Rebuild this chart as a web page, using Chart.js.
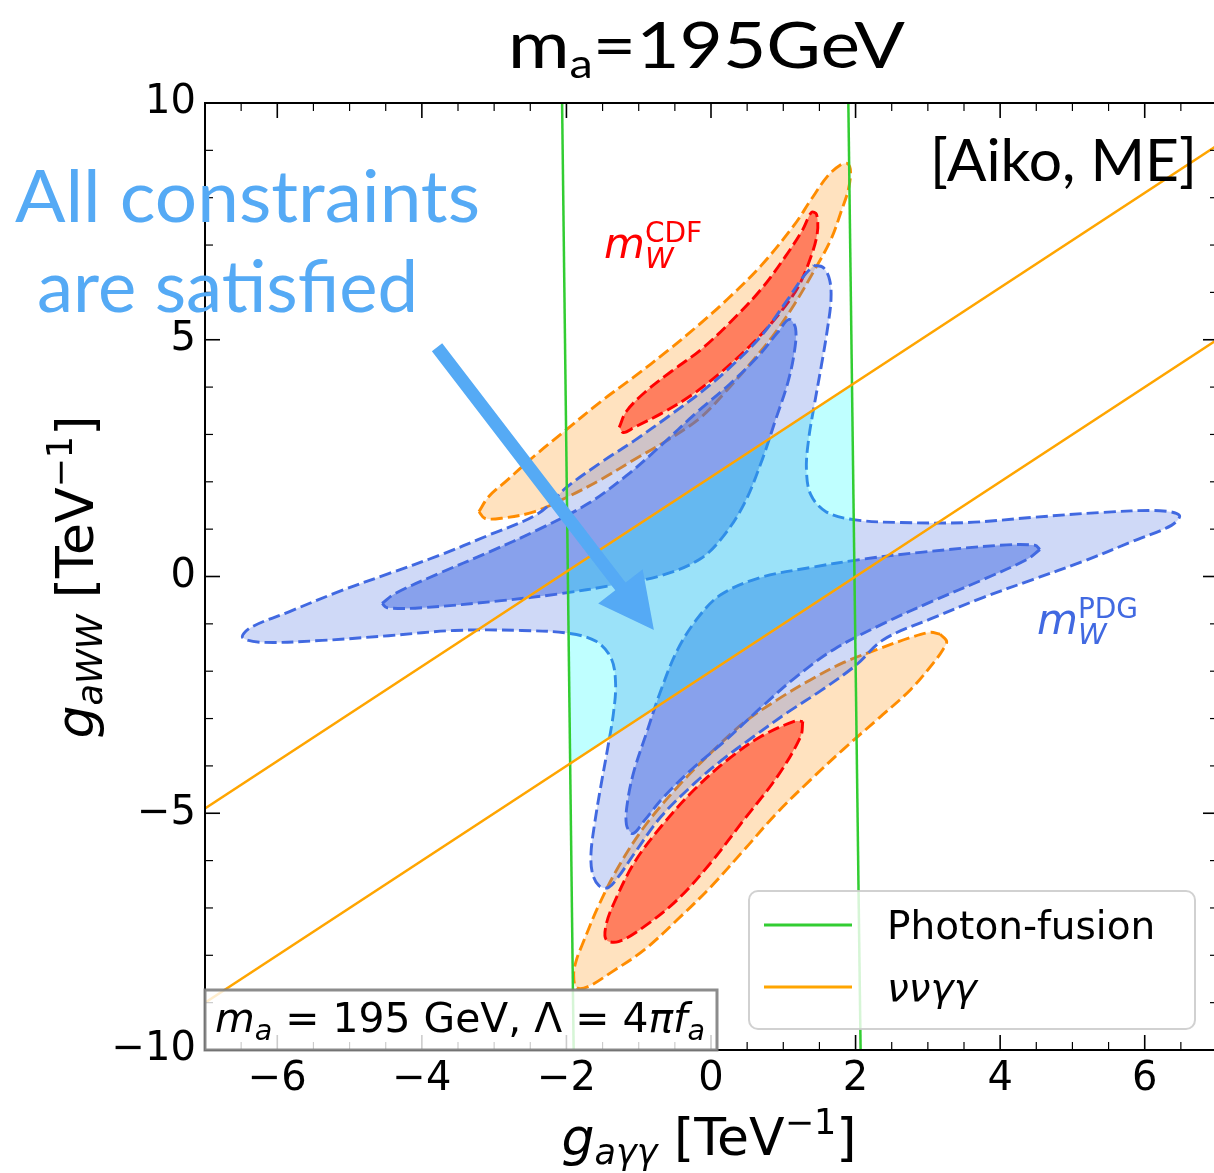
<!DOCTYPE html>
<html lang="en">
<head>
<meta charset="UTF-8">
<title>m_a = 195 GeV</title>
<style>
  html, body { margin: 0; padding: 0; background: #fff; overflow: hidden; }
  #wrap { width: 1214px; height: 1173px; overflow: hidden; }
  canvas { display: block; }
</style>
</head>
<body>
<div id="wrap"><canvas id="chart" width="1218" height="1173"></canvas></div>
<script src="https://cdn.jsdelivr.net/npm/chart.js@4.4.1/dist/chart.umd.min.js"></script>
<script>
// axis ticks
const xTicks = [-6, -4, -2, 0, 2, 4, 6];
const yTicks = [-10, -5, 0, 5, 10];
const xMinorStep = 0.5;
const yMinorStep = 1;

// straight bounds: Photon-fusion (green) and nu nu gamma gamma (orange)
const photonLeft = [[-2.06, 10], [-1.90, -10]];
const photonRight = [[1.90, 10], [2.07, -10]];
const nnggUpper = [[-7, -4.9], [7, 9.1]];
const nnggLower = [[-7, -9.0], [7, 5.0]];

// region allowed by both bounds (corners where green and orange lines meet)
const allowed = [[-1.98, 0.12], [1.95, 4.05], [1.985, -0.015], [-1.95, -3.95], [-1.98, 0.12]];

// m_W (PDG) contours
const pdgOuter = [
  [1.42, 6.57], [1.55, 6.53], [1.64, 6.27], [1.66, 5.85], [1.61, 5.22], [1.53, 4.48], [1.43, 3.63],
  [1.35, 2.89], [1.32, 2.26], [1.38, 1.73], [1.59, 1.37], [1.97, 1.20], [2.62, 1.14], [3.55, 1.14],
  [4.46, 1.25], [5.38, 1.35], [6.21, 1.39], [6.48, 1.29], [6.37, 1.08], [5.83, 0.74], [5.15, 0.32],
  [4.46, -0.06], [3.77, -0.44], [3.08, -0.87], [2.39, -1.33], [2.00, -1.88], [1.52, -2.41],
  [1.06, -2.87], [0.59, -3.38], [0.14, -3.89], [-0.23, -4.37], [-0.69, -5.07], [-1.06, -5.85],
  [-1.28, -6.34], [-1.42, -6.57], [-1.55, -6.53], [-1.64, -6.27], [-1.66, -5.85], [-1.61, -5.22],
  [-1.53, -4.48], [-1.43, -3.63], [-1.35, -2.89], [-1.32, -2.26], [-1.38, -1.73], [-1.59, -1.37],
  [-1.97, -1.20], [-2.62, -1.14], [-3.55, -1.14], [-4.46, -1.25], [-5.38, -1.35], [-6.21, -1.39],
  [-6.48, -1.29], [-6.37, -1.08], [-5.83, -0.74], [-5.15, -0.32], [-4.46, 0.06], [-3.77, 0.44],
  [-3.08, 0.87], [-2.39, 1.33], [-2.00, 1.88], [-1.52, 2.41], [-1.06, 2.87], [-0.59, 3.38],
  [-0.14, 3.89], [0.23, 4.37], [0.69, 5.07], [1.06, 5.85], [1.28, 6.34], [1.42, 6.57]
];
const pdgInnerUpper = [
  [-4.55, -0.57], [-4.37, -0.36], [-3.77, 0.06], [-3.08, 0.51], [-2.39, 0.99], [-1.70, 1.54],
  [-1.17, 2.13], [-0.69, 2.77], [-0.21, 3.45], [0.25, 4.05], [0.65, 4.65], [0.92, 5.15], [1.08, 5.43],
  [1.17, 5.24], [1.15, 4.71], [1.06, 4.08], [0.90, 3.34], [0.69, 2.39], [0.46, 1.54], [0.18, 0.87],
  [-0.14, 0.38], [-0.69, 0.02], [-1.38, -0.19], [-2.07, -0.36], [-2.90, -0.51], [-4.00, -0.66],
  [-4.48, -0.66], [-4.55, -0.57]
];
const pdgInnerLower = [
  [4.55, 0.57], [4.37, 0.36], [3.77, -0.06], [3.08, -0.51], [2.39, -0.99], [1.70, -1.54],
  [1.17, -2.13], [0.69, -2.77], [0.21, -3.45], [-0.25, -4.05], [-0.65, -4.65], [-0.92, -5.15],
  [-1.08, -5.43], [-1.17, -5.24], [-1.15, -4.71], [-1.06, -4.08], [-0.90, -3.34], [-0.69, -2.39],
  [-0.46, -1.54], [-0.18, -0.87], [0.14, -0.38], [0.69, -0.02], [1.38, 0.19], [2.07, 0.36],
  [2.90, 0.51], [4.00, 0.66], [4.48, 0.66], [4.55, 0.57]
];

// m_W (CDF) contours
const cdfOuterUpper = [
  [-3.21, 1.37], [-3.08, 1.68], [-2.83, 2.02], [-2.44, 2.55], [-2.00, 3.10], [-1.52, 3.70],
  [-1.06, 4.22], [-0.59, 4.78], [-0.18, 5.30], [0.23, 5.86], [0.69, 6.56], [1.15, 7.42], [1.38, 7.95],
  [1.61, 8.45], [1.79, 8.69], [1.89, 8.72], [1.93, 8.55], [1.90, 8.17], [1.81, 7.75], [1.66, 7.12],
  [1.42, 6.44], [1.15, 5.74], [0.87, 5.11], [0.59, 4.58], [0.23, 3.95], [-0.14, 3.36], [-0.59, 2.89],
  [-1.06, 2.47], [-1.52, 2.05], [-1.97, 1.69], [-2.44, 1.37], [-2.90, 1.23], [-3.13, 1.23], [-3.21, 1.37]
];
const cdfInnerUpper = [
  [-1.27, 3.15], [-1.17, 3.49], [-0.90, 3.91], [-0.55, 4.33], [-0.14, 4.79], [0.28, 5.39],
  [0.69, 6.06], [1.03, 6.76], [1.27, 7.33], [1.39, 7.69], [1.46, 7.65], [1.47, 7.25], [1.37, 6.70],
  [1.20, 6.10], [0.93, 5.52], [0.58, 4.93], [0.16, 4.34], [-0.26, 3.84], [-0.69, 3.44], [-1.05, 3.16],
  [-1.21, 3.04], [-1.27, 3.15]
];
const cdfOuterLower = [
  [3.17, -1.22], [3.26, -1.37], [3.21, -1.54], [3.08, -1.82], [2.76, -2.39], [2.30, -3.02],
  [1.83, -3.65], [1.38, -4.29], [0.92, -4.98], [0.46, -5.77], [0.00, -6.55], [-0.46, -7.24],
  [-0.92, -7.88], [-1.38, -8.36], [-1.70, -8.66], [-1.86, -8.68], [-1.90, -8.41], [-1.86, -8.09],
  [-1.79, -7.81], [-1.56, -6.97], [-1.28, -6.13], [-0.92, -5.28], [-0.46, -4.44], [0.00, -3.72],
  [0.46, -3.08], [0.92, -2.60], [1.38, -2.18], [1.83, -1.82], [2.30, -1.54], [2.76, -1.29],
  [3.03, -1.18], [3.17, -1.22]
];
const cdfInnerLower = [
  [1.27, -3.06], [1.24, -3.38], [0.92, -4.22], [0.46, -5.13], [0.00, -6.04], [-0.46, -6.82],
  [-0.92, -7.39], [-1.28, -7.71], [-1.45, -7.67], [-1.45, -7.35], [-1.34, -6.89], [-1.06, -6.04],
  [-0.69, -5.28], [-0.23, -4.50], [0.23, -3.87], [0.69, -3.38], [1.15, -3.06], [1.27, -3.06]
];

// annotations (data coordinates)
const arrowFrom = [-3.79, 4.84];
const arrowTo = [-0.79, -1.13];
const cdfLabelAt = [-1.48, 6.72];
const pdgLabelAt = [4.51, -1.22];

const FONT = '"DejaVu Sans", sans-serif';
const GILL = 'Lato, "Open Sans", sans-serif';
const green = 'rgb(50,205,50)';
const orange = 'rgb(255,165,0)';
const skyBlue = '#55aaf5';
const dash = [12, 5];

function contour(label, data, fillColor, edgeColor, order) {
  return {
    label, data, order, showLine: true, pointRadius: 0, tension: 0.35,
    fill: 'shape', backgroundColor: fillColor, borderColor: edgeColor,
    borderWidth: 2.9, borderDash: dash
  };
}
function bound(label, data, color, order) {
  return { label, data, order, showLine: true, pointRadius: 0, tension: 0,
    fill: false, borderColor: color, borderWidth: 2.5 };
}

function layoutRuns(ctx, runs) {
  let cx = 0, prev = 0, maxX = 0;
  const pos = [];
  for (const r of runs) {
    ctx.font = r.f;
    if (r.back) cx = prev;
    prev = cx;
    pos.push(cx);
    cx += ctx.measureText(r.t).width;
    maxX = Math.max(maxX, cx);
  }
  return { pos, width: maxX };
}

function drawRuns(ctx, runs, x, y, opts) {
  opts = opts || {};
  const lay = layoutRuns(ctx, runs);
  const sx = opts.width ? opts.width / lay.width : 1;
  ctx.save();
  ctx.translate(x, y);
  if (opts.rotate) ctx.rotate(opts.rotate);
  ctx.scale(sx, 1);
  ctx.fillStyle = opts.color || '#000';
  ctx.textAlign = 'left';
  ctx.textBaseline = 'alphabetic';
  const x0 = opts.align === 'center' ? -lay.width / 2 : 0;
  runs.forEach((r, i) => {
    ctx.font = r.f;
    ctx.fillText(r.t, x0 + lay.pos[i], r.dy || 0);
  });
  ctx.restore();
}

const decor = {
  id: 'decor',
  afterDatasetsDraw(chart) {
    const { ctx, chartArea: a, scales: { x, y } } = chart;
    ctx.save();

    // inward ticks on all four sides
    ctx.strokeStyle = '#000';
    const right = a.right + 1;
    const line = (x1, y1, x2, y2) => { ctx.beginPath(); ctx.moveTo(x1, y1); ctx.lineTo(x2, y2); ctx.stroke(); };
    for (let v = -7 + xMinorStep; v < 7; v += xMinorStep) {
      const px = x.getPixelForValue(v);
      const major = xTicks.includes(v);
      const len = major ? 15 : 8;
      ctx.lineWidth = major ? 1.6 : 1.2;
      line(px, a.bottom, px, a.bottom - len);
      line(px, a.top, px, a.top + len);
    }
    for (let v = -10 + yMinorStep; v < 10; v += yMinorStep) {
      const py = y.getPixelForValue(v);
      const major = yTicks.includes(v);
      const len = major ? 15 : 8;
      ctx.lineWidth = major ? 1.6 : 1.2;
      line(a.left, py, a.left + len, py);
      line(right, py, right - len, py);
    }
    ctx.lineWidth = 2;
    ctx.strokeRect(a.left, a.top, right - a.left, a.bottom - a.top);

    // arrow
    const p0 = [x.getPixelForValue(arrowFrom[0]), y.getPixelForValue(arrowFrom[1])];
    const p1 = [x.getPixelForValue(arrowTo[0]), y.getPixelForValue(arrowTo[1])];
    const dx = p1[0] - p0[0], dy = p1[1] - p0[1];
    const L = Math.hypot(dx, dy), ux = dx / L, uy = dy / L, nx = -uy, ny = ux;
    const headLen = 55, headHalf = 28, shaftHalf = 6.5;
    const bx = p1[0] - ux * headLen, by = p1[1] - uy * headLen;
    ctx.fillStyle = skyBlue;
    ctx.beginPath();
    ctx.moveTo(p0[0] + nx * shaftHalf, p0[1] + ny * shaftHalf);
    ctx.lineTo(bx + nx * shaftHalf, by + ny * shaftHalf);
    ctx.lineTo(bx + nx * headHalf, by + ny * headHalf);
    ctx.lineTo(p1[0], p1[1]);
    ctx.lineTo(bx - nx * headHalf, by - ny * headHalf);
    ctx.lineTo(bx - nx * shaftHalf, by - ny * shaftHalf);
    ctx.lineTo(p0[0] - nx * shaftHalf, p0[1] - ny * shaftHalf);
    ctx.closePath();
    ctx.fill();

    // contour labels
    drawRuns(ctx, [
      { t: 'm', f: 'italic 42px ' + FONT },
      { t: 'W', f: 'italic 29px ' + FONT, dy: 10 },
      { t: 'CDF', f: '28px ' + FONT, dy: -16, back: true }
    ], x.getPixelForValue(cdfLabelAt[0]), y.getPixelForValue(cdfLabelAt[1]), { color: '#ff0000' });
    drawRuns(ctx, [
      { t: 'm', f: 'italic 42px ' + FONT },
      { t: 'W', f: 'italic 29px ' + FONT, dy: 10 },
      { t: 'PDG', f: '28px ' + FONT, dy: -16, back: true }
    ], x.getPixelForValue(pdgLabelAt[0]), y.getPixelForValue(pdgLabelAt[1]), { color: 'royalblue' });

    // inset box
    const ib = { l: a.left, t: 990, r: 717, b: a.bottom };
    ctx.fillStyle = 'rgba(255,255,255,0.8)';
    ctx.fillRect(ib.l, ib.t, ib.r - ib.l, ib.b - ib.t);
    ctx.strokeStyle = 'rgba(128,128,128,0.9)';
    ctx.lineWidth = 3;
    ctx.strokeRect(ib.l, ib.t, ib.r - ib.l, ib.b - ib.t);
    drawRuns(ctx, [
      { t: 'm', f: 'italic 40px ' + FONT },
      { t: 'a', f: 'italic 28px ' + FONT, dy: 8 },
      { t: ' = 195 GeV, \u039B = 4', f: '40px ' + FONT },
      { t: '\u03C0f', f: 'italic 40px ' + FONT },
      { t: 'a', f: 'italic 28px ' + FONT, dy: 8 }
    ], 215, 1032, { width: 490 });

    // legend
    const lg = { l: 749, t: 891, r: 1195, b: 1029 };
    ctx.fillStyle = 'rgba(255,255,255,0.8)';
    ctx.strokeStyle = 'rgba(204,204,204,0.9)';
    ctx.lineWidth = 2;
    ctx.beginPath();
    ctx.roundRect(lg.l, lg.t, lg.r - lg.l, lg.b - lg.t, 9);
    ctx.fill();
    ctx.stroke();
    const items = [
      { ds: chart.data.datasets.find(d => d.label === 'Photon-fusion'), y: 925, italic: false },
      { ds: chart.data.datasets.find(d => d.label === '\u03BD\u03BD\u03B3\u03B3'), y: 987, italic: true }
    ];
    items.forEach(it => {
      ctx.strokeStyle = it.ds.borderColor;
      ctx.lineWidth = 3;
      line(764, it.y, 852, it.y);
      ctx.fillStyle = '#000';
      ctx.font = (it.italic ? 'italic ' : '') + '39px ' + FONT;
      ctx.textBaseline = 'alphabetic';
      ctx.fillText(it.ds.label, 887, it.y + 14);
    });
    ctx.restore();
  },
  afterDraw(chart) {
    const { ctx } = chart;
    // title
    drawRuns(ctx, [
      { t: 'm', f: '64px ' + GILL },
      { t: 'a', f: '40px ' + GILL, dy: 10 },
      { t: '=195GeV', f: '64px ' + GILL }
    ], 508, 68, { width: 397 });
    drawRuns(ctx, [{ t: '[Aiko, ME]', f: '58px ' + GILL }], 930, 181, { width: 267 });
    drawRuns(ctx, [{ t: 'All constraints', f: '72px ' + GILL }], 15, 222, { width: 465, color: skyBlue });
    drawRuns(ctx, [{ t: 'are satisfied', f: '72px ' + GILL }], 37, 312, { width: 381, color: skyBlue });
    // axis titles
    const base = '52px ' + FONT, small = '35px ' + FONT;
    drawRuns(ctx, [
      { t: 'g', f: 'italic ' + base },
      { t: 'a\u03B3\u03B3', f: 'italic ' + small, dy: 9 },
      { t: ' [TeV', f: base },
      { t: '\u22121', f: small, dy: -21 },
      { t: ']', f: base }
    ], 709, 1155, { align: 'center' });
    drawRuns(ctx, [
      { t: 'g', f: 'italic ' + base },
      { t: 'aWW', f: 'italic ' + small, dy: 9 },
      { t: ' [TeV', f: base },
      { t: '\u22121', f: small, dy: -21 },
      { t: ']', f: base }
    ], 93, 577, { align: 'center', rotate: -Math.PI / 2 });
  }
};

const fmt = v => (v < 0 ? '\u2212' + Math.abs(v) : String(v));

new Chart(document.getElementById('chart'), {
  type: 'scatter',
  data: {
    datasets: [
      bound('\u03BD\u03BD\u03B3\u03B3', nnggUpper, orange, 14),
      bound('\u03BD\u03BD\u03B3\u03B3 (lower)', nnggLower, orange, 14),
      bound('Photon-fusion', photonLeft, green, 15),
      bound('Photon-fusion (right)', photonRight, green, 15),
      { label: 'allowed', data: allowed, order: 16, showLine: true, pointRadius: 0, tension: 0,
        fill: 'shape', backgroundColor: 'rgba(0,255,255,0.25)', borderColor: 'rgba(0,0,0,0)', borderWidth: 0 },
      contour('PDG 1 sigma upper', pdgInnerUpper, 'rgba(65,105,225,0.5)', 'royalblue', 17),
      contour('PDG 1 sigma lower', pdgInnerLower, 'rgba(65,105,225,0.5)', 'royalblue', 17),
      contour('PDG 2 sigma', pdgOuter, 'rgba(65,105,225,0.25)', 'royalblue', 18),
      contour('CDF 1 sigma upper', cdfInnerUpper, 'rgba(255,30,0,0.5)', '#ff0000', 19),
      contour('CDF 1 sigma lower', cdfInnerLower, 'rgba(255,30,0,0.5)', '#ff0000', 19),
      contour('CDF 2 sigma upper', cdfOuterUpper, 'rgba(255,140,0,0.25)', 'darkorange', 20),
      contour('CDF 2 sigma lower', cdfOuterLower, 'rgba(255,140,0,0.25)', 'darkorange', 20)
    ]
  },
  options: {
    responsive: false,
    animation: false,
    devicePixelRatio: 1,
    events: [],
    layout: { padding: { top: 103, right: 1, left: 0, bottom: 0 } },
    plugins: { legend: { display: false }, tooltip: { enabled: false } },
    scales: {
      x: {
        type: 'linear', min: -7, max: 7,
        afterFit: s => { s.height = 123; },
        afterBuildTicks: s => { s.ticks = xTicks.map(v => ({ value: v })); },
        grid: { display: false, drawTicks: false },
        border: { display: false },
        ticks: { font: { family: 'DejaVu Sans', size: 40 }, color: '#000', padding: 6,
          maxRotation: 0, autoSkip: false, callback: fmt }
      },
      y: {
        type: 'linear', min: -10, max: 10,
        afterFit: s => { s.width = 205; },
        afterBuildTicks: s => { s.ticks = yTicks.map(v => ({ value: v })); },
        grid: { display: false, drawTicks: false },
        border: { display: false },
        ticks: { font: { family: 'DejaVu Sans', size: 40 }, color: '#000', padding: 9,
          autoSkip: false, callback: fmt }
      }
    }
  },
  plugins: [decor]
});
</script>
</body>
</html>
